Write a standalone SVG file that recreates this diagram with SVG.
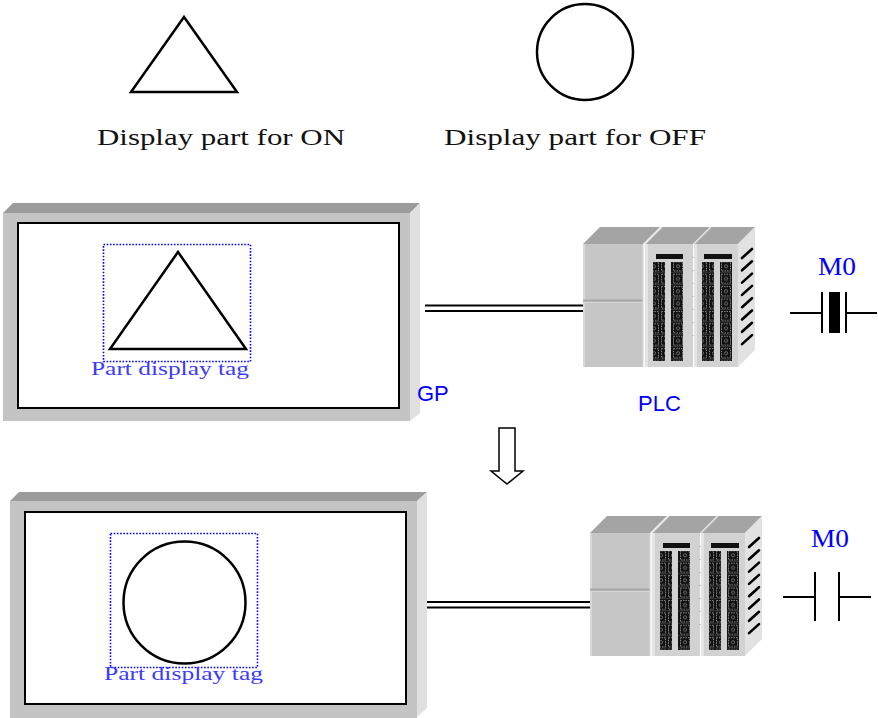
<svg xmlns="http://www.w3.org/2000/svg" width="878" height="718" viewBox="0 0 878 718">
  <style>
    .serif { font-family: "Liberation Serif", "DejaVu Serif", serif; }
    .sans { font-family: "Liberation Sans", Arial, sans-serif; }
    .cap { font-size: 23px; fill: #111; }
    .tag { font-size: 19px; fill: #3b3bff; }
    .blue { fill: #0000ff; }
    .shape { fill: #fff; stroke: #000; stroke-width: 2.5; }
    .sel { fill: none; stroke: #0000ff; stroke-width: 1.6; stroke-dasharray: 1.6 1.6; }
    .screen { fill: #fff; stroke: #000; stroke-width: 2; }
    .wire { stroke: #000; stroke-width: 2; fill: none; }
    .slash { stroke: #000; stroke-width: 2.6; stroke-linecap: round; }
  </style>
  <defs>
    <pattern id="term" x="0" y="0" width="12" height="12.4" patternUnits="userSpaceOnUse">
      <rect width="12" height="12.4" fill="#111"/>
      <rect x="1.5" y="1.5" width="9" height="9" fill="none" stroke="#9a9a9a" stroke-width="0.9" stroke-dasharray="1.5 1"/>
      <circle cx="6" cy="6" r="1.6" fill="none" stroke="#8a8a8a" stroke-width="0.7"/>
      <line x1="0" y1="12" x2="12" y2="12" stroke="#555" stroke-width="0.6"/>
    </pattern>
    <!-- PLC rack: CPU module plus two I/O modules -->
    <symbol id="plc" overflow="visible">
      <!-- CPU module -->
      <polygon points="583,244 600,227 660,227 643,244" fill="#a4a4a4"/>
      <rect x="583" y="244" width="60" height="123" fill="#c6c6c6"/>
      <rect x="583" y="244" width="2" height="123" fill="#d8d8d8"/>
      <line x1="583" y1="300.5" x2="643" y2="300.5" stroke="#a6a6a6" stroke-width="2"/>
      <line x1="583" y1="302.5" x2="643" y2="302.5" stroke="#d6d6d6" stroke-width="1"/>
      <line x1="643.5" y1="244" x2="643.5" y2="367" stroke="#e8e8e8" stroke-width="1.5"/>
      <!-- I/O module 1 -->
      <polygon points="645,244 662,227 710,227 693,244" fill="#a4a4a4"/>
      <line x1="645" y1="244" x2="662" y2="227" stroke="#e0e0e0" stroke-width="1.2"/>
      <rect x="645" y="244" width="48" height="123" fill="#d2d2d2"/>
      <rect x="645" y="244" width="3" height="123" fill="#e4e4e4"/>
      <rect x="656" y="254" width="27" height="5" fill="#111"/>
      <rect x="653" y="262" width="12" height="99" fill="url(#term)"/>
      <rect x="671" y="262" width="12" height="99" fill="url(#term)"/>
      <!-- I/O module 2 -->
      <polygon points="694,244 711,227 755,227 738,244" fill="#a4a4a4"/>
      <line x1="694" y1="244" x2="711" y2="227" stroke="#e0e0e0" stroke-width="1.2"/>
      <rect x="694" y="244" width="44" height="123" fill="#d2d2d2"/>
      <rect x="694" y="244" width="3" height="123" fill="#e4e4e4"/>
      <rect x="704" y="254" width="28" height="5" fill="#111"/>
      <rect x="702" y="262" width="12" height="99" fill="url(#term)"/>
      <rect x="720" y="262" width="12" height="99" fill="url(#term)"/>
      <polygon points="738,244 755,227 755,350 738,367" fill="#e2e2e2"/>
      <g fill="#999">
        <rect x="692.5" y="257" width="1" height="1"/>
        <rect x="692.5" y="270" width="1" height="1"/>
        <rect x="692.5" y="283" width="1" height="1"/>
        <rect x="692.5" y="296" width="1" height="1"/>
        <rect x="692.5" y="309" width="1" height="1"/>
        <rect x="692.5" y="322" width="1" height="1"/>
        <rect x="692.5" y="335" width="1" height="1"/>
      </g>
      <g class="slash">
        <line x1="742" y1="258" x2="752" y2="249"/>
        <line x1="742" y1="270.3" x2="752" y2="261.3"/>
        <line x1="742" y1="282.6" x2="752" y2="273.6"/>
        <line x1="742" y1="294.9" x2="752" y2="285.9"/>
        <line x1="742" y1="307.2" x2="752" y2="298.2"/>
        <line x1="742" y1="319.5" x2="752" y2="310.5"/>
        <line x1="742" y1="331.8" x2="752" y2="322.8"/>
        <line x1="742" y1="344.1" x2="752" y2="335.1"/>
      </g>
    </symbol>
  </defs>

  <!-- Legend -->
  <g id="legend-on">
    <polygon class="shape" points="184,17 131,92 237,92"/>
    <text class="serif cap" x="97" y="145" textLength="248" lengthAdjust="spacingAndGlyphs">Display part for ON</text>
  </g>
  <g id="legend-off">
    <circle class="shape" cx="585" cy="52" r="48"/>
    <text class="serif cap" x="444" y="145" textLength="262" lengthAdjust="spacingAndGlyphs">Display part for OFF</text>
  </g>

  <!-- GP panel, ON state -->
  <g id="gp-on">
    <polygon points="3,213 13,203 420,203 410,213" fill="#9c9c9c"/>
    <polygon points="410,213 420,203 420,413 410,421" fill="#e0e0e0"/>
    <rect x="3" y="213" width="407" height="208" fill="#c4c4c4"/>
    <rect class="screen" x="18" y="223" width="381" height="185"/>
    <rect class="sel" x="103.5" y="244.5" width="147" height="117"/>
    <polygon class="shape" points="178,252 110,349 246,349"/>
    <text class="serif tag" x="91" y="375" textLength="158" lengthAdjust="spacingAndGlyphs">Part display tag</text>
    <text class="sans blue" x="417" y="401" font-size="22">GP</text>
  </g>

  <!-- GP panel, OFF state -->
  <g id="gp-off">
    <polygon points="10,501 19,492 427,492 417,501" fill="#9c9c9c"/>
    <polygon points="417,501 427,492 427,708 417,717" fill="#e0e0e0"/>
    <rect x="10" y="501" width="407" height="217" fill="#c4c4c4"/>
    <rect class="screen" x="25" y="512" width="381" height="192"/>
    <rect class="sel" x="110.5" y="533.5" width="147" height="134"/>
    <circle class="shape" cx="184.5" cy="602.5" r="61"/>
    <text class="serif tag" x="104" y="680" textLength="159" lengthAdjust="spacingAndGlyphs">Part display tag</text>
  </g>

  <!-- PLC units -->
  <g id="plc-on">
    <use href="#plc"/>
    <text class="sans blue" x="638" y="411" font-size="22">PLC</text>
  </g>
  <g id="plc-off">
    <use href="#plc" transform="translate(7,289)"/>
  </g>

  <!-- M0 contacts -->
  <g id="m0-on">
    <text class="serif blue" x="818" y="275" font-size="25" textLength="38" lengthAdjust="spacingAndGlyphs">M0</text>
    <g class="wire">
      <line x1="790" y1="313" x2="822" y2="313"/>
      <line x1="822" y1="292" x2="822" y2="333"/>
      <line x1="846" y1="292" x2="846" y2="333"/>
      <line x1="846" y1="313" x2="877" y2="313"/>
    </g>
    <rect x="829" y="292" width="11" height="41" fill="#000"/>
  </g>
  <g id="m0-off">
    <text class="serif blue" x="811" y="547" font-size="25" textLength="38" lengthAdjust="spacingAndGlyphs">M0</text>
    <g class="wire">
      <line x1="783" y1="597" x2="815" y2="597"/>
      <line x1="815" y1="572" x2="815" y2="621"/>
      <line x1="839" y1="572" x2="839" y2="621"/>
      <line x1="839" y1="597" x2="871" y2="597"/>
    </g>
  </g>

  <!-- Connectors: GP-to-PLC cables and the state-change arrow -->
  <g id="connectors">
    <g stroke="#000" stroke-width="2">
      <line x1="425" y1="305.5" x2="583" y2="305.5"/>
      <line x1="425" y1="311" x2="583" y2="311"/>
      <line x1="427" y1="602" x2="590" y2="602"/>
      <line x1="427" y1="607.5" x2="590" y2="607.5"/>
    </g>
    <polygon points="499,428 515,428 515,471 523,471 507,484 491,471 499,471" fill="#fff" stroke="#000" stroke-width="1.5"/>
  </g>
</svg>
